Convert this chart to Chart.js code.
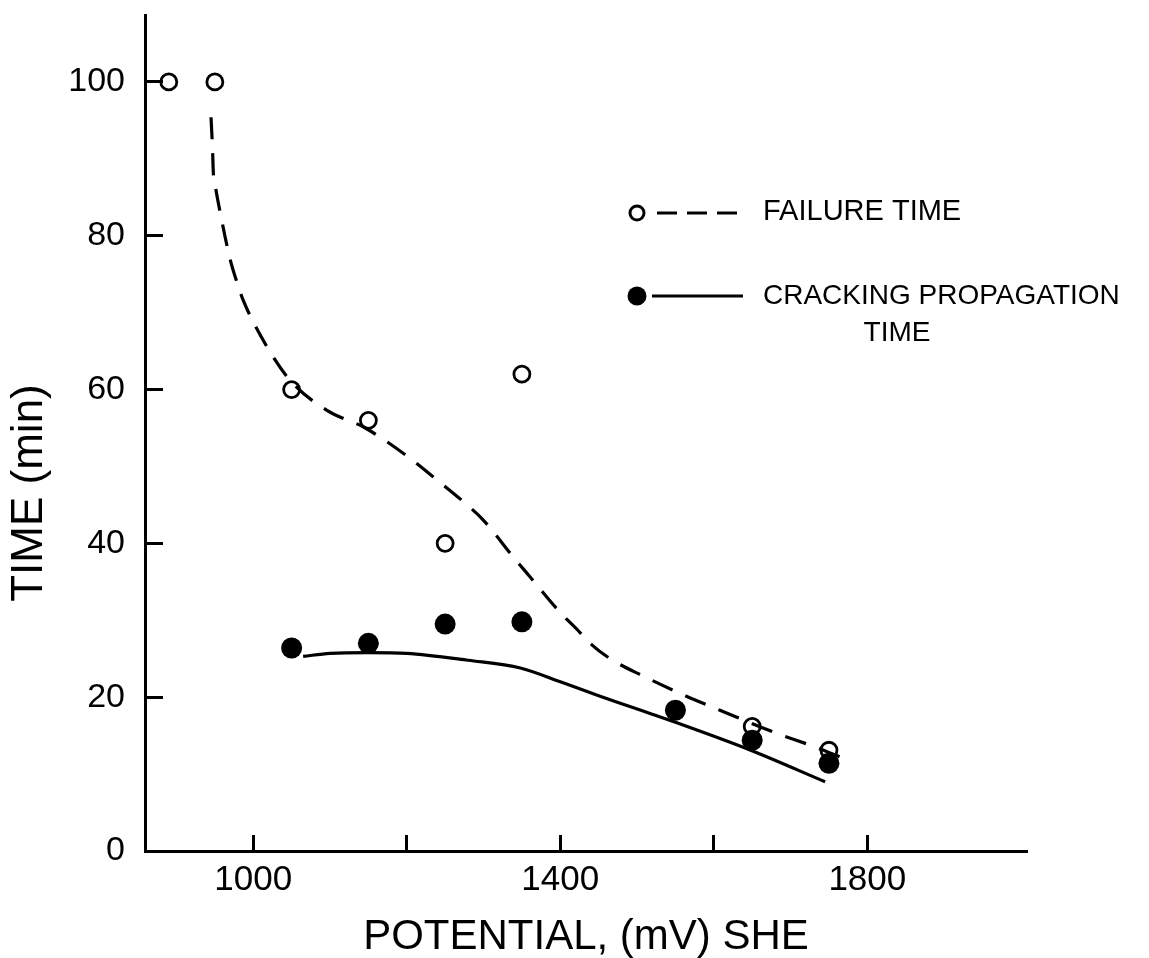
<!DOCTYPE html>
<html><head><meta charset="utf-8">
<script src="https://cdn.jsdelivr.net/npm/chart.js@4.4.0/dist/chart.umd.min.js"></script>
<style>html,body{margin:0;padding:0;background:#fff}#wrap{width:1149px;height:958px;position:relative}</style>
</head><body><div id="wrap"><canvas id="c"></canvas></div>
<script>
// ---- data ----
const failurePotential = [890, 950, 1050, 1150, 1250, 1350, 1650, 1750];
const failureTime      = [100, 100, 60, 56, 40, 62, 16.2, 13.1];
const crackPotential   = [1050, 1150, 1250, 1350, 1550, 1650, 1750];
const crackTime        = [26.4, 27.0, 29.5, 29.8, 18.3, 14.4, 11.4];
const failureFitPotential = [945, 947, 948, 951, 957, 970, 981, 987, 1013, 1048, 1096, 1146, 1205, 1240, 1274, 1300, 1339, 1361, 1400, 1422, 1440, 1465, 1509, 1556, 1608, 1682, 1730, 1770];
const failureFitTime      = [95.4, 91.2, 88.2, 86.2, 83.0, 76.9, 73.3, 71.6, 66.4, 61.2, 57.3, 55, 51, 48.2, 45.4, 43, 38.2, 35.6, 31, 28.8, 26.9, 25.0, 22.7, 20.5, 18.3, 15.3, 13.6, 12.0];
const crackFitPotential = [1065, 1100, 1150, 1200, 1280, 1348, 1400, 1450, 1548, 1648, 1745];
const crackFitTime      = [25.3, 25.7, 25.8, 25.7, 24.8, 23.8, 22.0, 20.2, 16.8, 13.1, 9.0];
const xTickValues = [1000, 1200, 1400, 1600, 1800];
const xTickLabels = ['1000', '', '1400', '', '1800'];
const yTickValues = [0, 20, 40, 60, 80, 100];
const yTickLabels = ['0', '20', '40', '60', '80', '100'];
const xTitle = 'POTENTIAL, (mV) SHE';
const yTitle = 'TIME (min)';
const legendFailure = 'FAILURE TIME';
const legendCrackLines = ['CRACKING PROPAGATION', 'TIME'];

const FONT = '"Liberation Sans", Arial, sans-serif';
const pts = (xs, ys) => xs.map((x, i) => ({x: x, y: ys[i]}));

const annot = {
  id: 'annot',
  afterDraw(chart) {
    const ctx = chart.ctx;
    ctx.save();
    ctx.fillStyle = '#000';
    ctx.strokeStyle = '#000';
    // y title
    ctx.save();
    ctx.translate(30, 493);
    ctx.rotate(-Math.PI / 2);
    ctx.font = '44px ' + FONT;
    ctx.textAlign = 'center';
    ctx.textBaseline = 'middle';
    ctx.fillText(yTitle, 0, 0);
    ctx.restore();
    // legend
    ctx.lineWidth = 3;
    ctx.beginPath(); ctx.arc(637, 213, 7, 0, Math.PI * 2); ctx.stroke();
    ctx.setLineDash([20, 10]);
    ctx.beginPath(); ctx.moveTo(657, 213); ctx.lineTo(740, 213); ctx.stroke();
    ctx.setLineDash([]);
    ctx.beginPath(); ctx.arc(637, 296, 9.5, 0, Math.PI * 2); ctx.fill();
    ctx.beginPath(); ctx.moveTo(652, 296); ctx.lineTo(743, 296); ctx.stroke();
    ctx.textBaseline = 'middle';
    ctx.textAlign = 'left';
    ctx.font = '29px ' + FONT;
    ctx.fillText(legendFailure, 763, 212);
    ctx.font = '28px ' + FONT;
    ctx.fillText(legendCrackLines[0], 763, 296);
    ctx.textAlign = 'center';
    ctx.fillText(legendCrackLines[1], 897, 333);
    ctx.restore();
  }
};

new Chart(document.getElementById('c'), {
  type: 'scatter',
  data: {
    datasets: [
      { label: 'CRACKING PROPAGATION TIME', data: pts(crackPotential, crackTime), order: 0,
        pointRadius: 10.5, pointBackgroundColor: '#000', pointBorderWidth: 0, showLine: false },
      { label: 'FAILURE TIME', data: pts(failurePotential, failureTime), order: 1,
        pointRadius: 8, pointBackgroundColor: 'rgba(0,0,0,0)', pointBorderColor: '#000', pointBorderWidth: 2.8, showLine: false },
      { type: 'line', label: 'failure fit', data: pts(failureFitPotential, failureFitTime), order: 2,
        borderColor: '#000', borderWidth: 3.2, borderDash: [22, 14], pointRadius: 0, fill: false,
        cubicInterpolationMode: 'monotone' },
      { type: 'line', label: 'crack fit', data: pts(crackFitPotential, crackFitTime), order: 3,
        borderColor: '#000', borderWidth: 3.2, pointRadius: 0, fill: false,
        cubicInterpolationMode: 'monotone' }
    ]
  },
  options: {
    responsive: true,
    maintainAspectRatio: false,
    animation: false,
    layout: { padding: { left: 0, top: 15, right: 122, bottom: 0 } },
    plugins: { legend: { display: false }, tooltip: { enabled: false } },
    scales: {
      x: {
        type: 'linear', position: 'bottom', min: 859, max: 2008,
        afterBuildTicks: s => { s.ticks = xTickValues.map(v => ({value: v})); },
        afterFit: s => { s.height = 107; s.paddingLeft = 0; s.paddingRight = 0; },
        ticks: {
          autoSkip: false, maxRotation: 0, padding: 24, color: '#000',
          font: { family: FONT, size: 35 },
          callback: v => { const i = xTickValues.indexOf(v); return i >= 0 ? xTickLabels[i] : ''; }
        },
        grid: { display: true, drawOnChartArea: false, drawTicks: true, tickLength: -16, tickWidth: 3, tickColor: '#000' },
        border: { display: true, width: 3, color: '#000' },
        title: { display: true, text: xTitle, color: '#000', font: { family: FONT, size: 42, lineHeight: 1 }, padding: { top: 0, bottom: 0 } }
      },
      y: {
        type: 'linear', position: 'left', min: 0, max: 108.7,
        afterBuildTicks: s => { s.ticks = yTickValues.map(v => ({value: v})); },
        afterFit: s => { s.width = 145; s.paddingTop = 0; s.paddingBottom = 0; },
        ticks: {
          padding: 38, color: '#000',
          font: { family: FONT, size: 34 },
          callback: v => { const i = yTickValues.indexOf(v); return i >= 0 ? yTickLabels[i] : ''; }
        },
        grid: { display: true, drawOnChartArea: false, drawTicks: true, tickLength: -18, tickWidth: 3, tickColor: '#000' },
        border: { display: true, width: 3, color: '#000' },
        title: { display: false }
      }
    }
  },
  plugins: [annot]
});
</script>
</body></html>
